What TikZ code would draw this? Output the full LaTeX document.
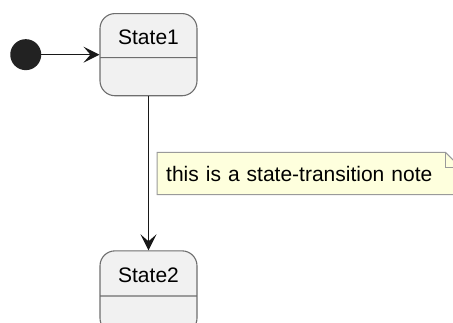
\documentclass[tikz,border=0pt]{standalone}
\usepackage{fontspec}
\setmainfont{Liberation Sans}
\usetikzlibrary{shapes.multipart, arrows.meta, positioning, backgrounds}

\definecolor{statefill}{HTML}{F1F1F1}
\definecolor{stateline}{HTML}{6E6E6E}
\definecolor{startfill}{HTML}{222222}
\definecolor{arrowline}{HTML}{181818}
\definecolor{notefill}{HTML}{FEFFDD}
\definecolor{noteline}{HTML}{9A9A9A}

\begin{document}
\begin{tikzpicture}[
    x=1pt, y=-1pt,
    font=\fontsize{21}{25}\selectfont,
    state/.style={
        draw=stateline,
        fill=statefill,
        rectangle split,
        rectangle split parts=2,
        rounded corners=15pt,
        minimum width=97pt,
        inner xsep=0pt,
        inner ysep=0pt,
        line width=1.1pt
    },
    start/.style={
        circle,
        fill=startfill,
        minimum size=31pt,
        inner sep=0pt
    },
    note/.style={
        minimum width=303pt,
        minimum height=42pt,
        inner xsep=9pt,
        text width=285pt,
        align=left
    },
    notebox/.style={
        draw=noteline,
        fill=notefill,
        line width=1pt
    },
    arrow/.style={
        -{Stealth[length=16pt, width=16pt, inset=7pt]},
        draw=arrowline,
        line width=1.3pt
    }
]
\useasboundingbox (0,0) rectangle (453,322);
\clip (0,0) rectangle (453,322);

% Nodes
\node[state, anchor=north] (state1) at (148.5,13)
    {\rule[-13pt]{0pt}{43pt}State1\nodepart{two}\rule{0pt}{37pt}};
\node[start, left=58pt of state1] (init) {};
\node[state, below=154pt of state1] (state2)
    {\rule[-13pt]{0pt}{44pt}State2\nodepart{two}\rule{0pt}{36pt}};
\node[note, below right=56pt and 8.5pt of state1.south] (trnote)
    {this is a state-transition note};

% Note with folded corner
\begin{pgfonlayer}{background}
\draw[notebox] (trnote.north west) -- ([xshift=-15pt]trnote.north east)
    -- ([yshift=-15pt]trnote.north east) -- (trnote.south east)
    -- (trnote.south west) -- cycle;
\draw[notebox, fill=none] ([xshift=-15pt]trnote.north east)
    |- ([yshift=-15pt]trnote.north east);
\end{pgfonlayer}

% Connections
\draw[arrow] (init) -- (state1);
\draw[arrow] (state1) -- (state2);

\end{tikzpicture}
\end{document}
